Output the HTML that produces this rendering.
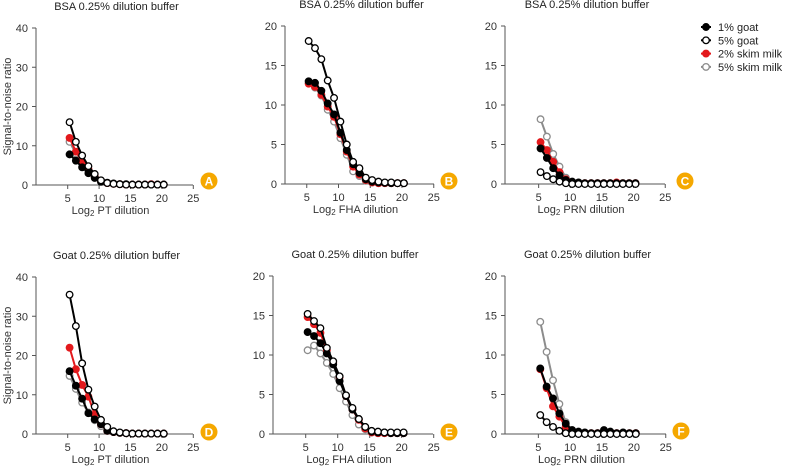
<!DOCTYPE html>
<html><head><meta charset="utf-8">
<style>
html,body{margin:0;padding:0;background:#fff;}
svg{display:block;font-family:"Liberation Sans",Arial,sans-serif;}
</style></head>
<body>
<svg id="c" width="785" height="472" viewBox="0 0 785 472"></svg>
<script>
const xValues=[5.3,6.3,7.3,8.3,9.3,10.3,11.3,12.3,13.3,14.3,15.3,16.3,17.3,18.3,19.3,20.3];
const seriesNames=["5% skim milk","2% skim milk","1% goat","5% goat"];
const xTicks=[5,10,15,20,25];
const panelLetters=["A","B","C","D","E","F"];
const panelTitles=["BSA 0.25% dilution buffer","BSA 0.25% dilution buffer","BSA 0.25% dilution buffer","Goat 0.25% dilution buffer","Goat 0.25% dilution buffer","Goat 0.25% dilution buffer"];
const xTitles=["PT dilution","FHA dilution","PRN dilution","PT dilution","FHA dilution","PRN dilution"];
const yMaxes=[40,20,20,40,20,20];
const yTickSteps=[10,5,5,10,5,5];
// order per panel: 5% skim, 2% skim, 1% goat, 5% goat
const dataA=[
 [11,8,5.5,3.5,2,0.9,0.5,0.3,0.2,0.1,0.1,0.1,0.1,0.1,0.1,0.1],
 [12,8.5,6,4,2.2,1,0.5,0.3,0.2,0.1,0.1,0.1,0.1,0.2,0.1,0.1],
 [7.8,6.2,4.5,3,1.8,0.8,0.6,0.4,0.2,0.2,0.1,0.1,0.1,0.1,0.1,0.1],
 [16,11,7.5,4.8,2.8,1.2,0.5,0.3,0.2,0.1,0.1,0.1,0.1,0.1,0.1,0.1]];
const dataB=[
 [12.8,12.2,11.2,9.4,7.9,5.8,3.7,1.6,1.0,0.4,0.2,0.1,0.1,0.1,0.1,0.1],
 [12.7,12.3,11.3,9.8,8.5,6.3,4.1,2.2,1.2,0.5,0.2,0.1,0.1,0.1,0.1,0.1],
 [13,12.8,11.8,10.2,8.8,6.5,4.3,2.5,1.4,0.6,0.3,0.2,0.15,0.1,0.1,0.1],
 [18.1,17.2,15.8,13.1,10.9,7.9,5,2.8,2,0.8,0.5,0.3,0.2,0.2,0.1,0.1]];
const dataC=[
 [8.2,6,3.8,2.2,0.8,0.2,0.1,0.1,0.1,0.1,0.1,0.1,0.1,0.1,0.1,0.1],
 [5.3,4.3,2.8,1.5,0.6,0.2,0.1,0.1,0.1,0.1,0.1,0.1,0.2,0.1,0.1,0.1],
 [4.5,3.3,2,1.1,0.5,0.3,0.2,0.1,0.1,0.1,0.1,0.1,0.1,0.1,0.1,0.1],
 [1.5,1,0.6,0.3,0.1,0,0,0,0,0,0,0,0,0,0,0]];
const dataD=[
 [14.8,11.5,8,5.5,3.5,2,1,0.5,0.3,0.2,0.1,0.1,0.1,0.1,0.1,0],
 [22,16.5,12.5,9.5,5,2.5,0.8,0.5,0.3,0.2,0.1,0.1,0.1,0.1,0.1,0.1],
 [16,12.3,9,5.3,3.7,2.5,0.8,0.5,0.3,0.2,0.1,0.1,0.1,0.1,0.1,0.1],
 [35.5,27.5,18,11.3,7,3.6,1.8,0.7,0.4,0.2,0.1,0.1,0.1,0.1,0.1,0.1]];
const dataE=[
 [10.6,11.2,10.2,9,7.6,5.8,4.1,2.4,1.2,0.6,0.2,0.1,0.1,0.1,0.1,0.1],
 [14.8,13.9,12.8,10.6,9,7.2,4.8,3.1,1.8,0.7,0.2,0.1,0.1,0.1,0.1,0.1],
 [12.9,12.4,11.5,10.2,8.8,6.7,4.8,3.1,1.9,0.9,0.3,0.2,0.2,0.1,0.1,0.1],
 [15.2,14.3,13.4,10.9,9.2,7.3,4.9,3.3,1.9,0.9,0.4,0.3,0.2,0.2,0.2,0.2]];
const dataF=[
 [14.2,10.4,6.8,3.8,1.5,0.5,0.2,0.1,0.1,0.1,0.1,0.1,0.1,0.1,0.1,0.1],
 [8.2,5.8,3.5,2.2,0.9,0.3,0.2,0.1,0.1,0.1,0.1,0.1,0.1,0.1,0.1,0.1],
 [8.3,6,4.5,2.6,1.3,0.5,0.3,0.2,0.1,0.1,0.5,0.3,0.1,0.2,0.1,0.1],
 [2.4,1.5,0.9,0.4,0.1,0,0,0,0,0,0,0,0,0,0,0]];
const allData=[dataA,dataB,dataC,dataD,dataE,dataF];

const NS="http://www.w3.org/2000/svg";
const svg=document.getElementById('c');
function mk(tag,attrs,parent){const e=document.createElementNS(NS,tag);for(const k in attrs)e.setAttribute(k,attrs[k]);(parent||svg).appendChild(e);return e;}

const layouts=[
 {x0:36.3,k:6.28,ax:36,ae:193,yT:28,yB:185,badge:[209,181]},
 {x0:275,k:6.35,ax:285,ae:434,yT:26,yB:184,badge:[449,181]},
 {x0:507,k:6.33,ax:505,ae:665,yT:26,yB:184,badge:[685,181]},
 {x0:36.3,k:6.28,ax:36,ae:193,yT:277,yB:434,badge:[209,432]},
 {x0:273.7,k:6.4,ax:273,ae:433,yT:276,yB:434,badge:[449,432]},
 {x0:506.5,k:6.37,ax:505,ae:666,yT:276,yB:434,badge:[681,431]}];
const styles=[
 {line:"#8c8c8c",fill:"#fff",stroke:"#8c8c8c"},
 {line:"#e3191c",fill:"#e3191c",stroke:"#e3191c"},
 {line:"#000",fill:"#000",stroke:"#000"},
 {line:"#000",fill:"#fff",stroke:"#000"}];

layouts.forEach((L,p)=>{
  const g=mk('g',{});
  
  
  const xs=v=>L.x0+L.k*v;
  const ys=v=>L.yB-(L.yB-L.yT)*v/yMaxes[p];
  const t=mk('text',{x:(L.ax+L.ae)/2+2,y:L.yT-18,'text-anchor':'middle','font-size':'11',fill:'#222'},g);
  t.textContent=panelTitles[p];
  
  
  const ya=mk('line',{x1:L.ax,y1:L.yT,x2:L.ax,y2:L.yB,stroke:'#555','stroke-width':1},g);
  
  
  const xa=mk('line',{x1:L.ax,y1:L.yB,x2:L.ae,y2:L.yB,stroke:'#555','stroke-width':1},g);
  
  
  for(let v=0;v<=yMaxes[p];v+=yTickSteps[p]){
    mk('line',{x1:L.ax-4,y1:ys(v),x2:L.ax,y2:ys(v),stroke:'#555'},g);
    const tl=mk('text',{x:L.ax-8,y:ys(v)+4,'text-anchor':'end','font-size':'11',fill:'#333'},g);
    tl.textContent=v;
    
    
  }
  xTicks.forEach(v=>{
    mk('line',{x1:xs(v),y1:L.yB,x2:xs(v),y2:L.yB+4,stroke:'#555'},g);
    const tl=mk('text',{x:xs(v),y:L.yB+17,'text-anchor':'middle','font-size':'11',fill:'#333'},g);
    tl.textContent=v;
    
    
  });
  const xt=mk('text',{x:(L.ax+L.ae)/2-4,y:L.yB+29,'text-anchor':'middle','font-size':'11',fill:'#333'},g);
  xt.innerHTML='Log<tspan font-size="8" dy="2">2</tspan><tspan dy="-2"> '+xTitles[p]+'</tspan>';
  
  
  if(p%3===0){
    const yt=mk('text',{x:0,y:0,'text-anchor':'middle','font-size':'11',fill:'#333',transform:`translate(11,${(L.yT+L.yB)/2}) rotate(-90)`},g);
    yt.textContent='Signal-to-noise ratio';
    
    
  }
  allData[p].forEach((vals,s)=>{
    const st=styles[s];
    const pts=vals.map((v,i)=>xs(xValues[i])+','+ys(v)).join(' ');
    const pl=mk('polyline',{points:pts,fill:'none',stroke:st.line,'stroke-width':2},g);
    
    
    vals.forEach((v,i)=>{
      const c=mk('circle',{cx:xs(xValues[i]),cy:ys(v),r:3.3,fill:st.fill,stroke:st.stroke,'stroke-width':1.3},g);
      
      
    });
  });
  const b=mk('circle',{cx:L.badge[0],cy:L.badge[1],r:8.5,fill:'#f5a800'},g);
  
  
  const bt=mk('text',{x:L.badge[0],y:L.badge[1]+4.5,'text-anchor':'middle','font-size':'12','font-weight':'bold',fill:'#fff'},g);
  bt.textContent=panelLetters[p];
  
  
});

const legOrder=[2,3,1,0];
const lg=mk('g',{});


legOrder.forEach((s,i)=>{
  const y=27+i*13.3, st=styles[s];
  const e=mk('g',{},lg);
  
  
  mk('line',{x1:701,y1:y,x2:711,y2:y,stroke:st.line,'stroke-width':2},e);
  mk('circle',{cx:706,cy:y,r:3.3,fill:st.fill,stroke:st.stroke,'stroke-width':1.3},e);
  const t=mk('text',{x:718,y:y+4,'font-size':'11',fill:'#222'},e);
  t.textContent=seriesNames[s];
});
</script>
</body></html>
